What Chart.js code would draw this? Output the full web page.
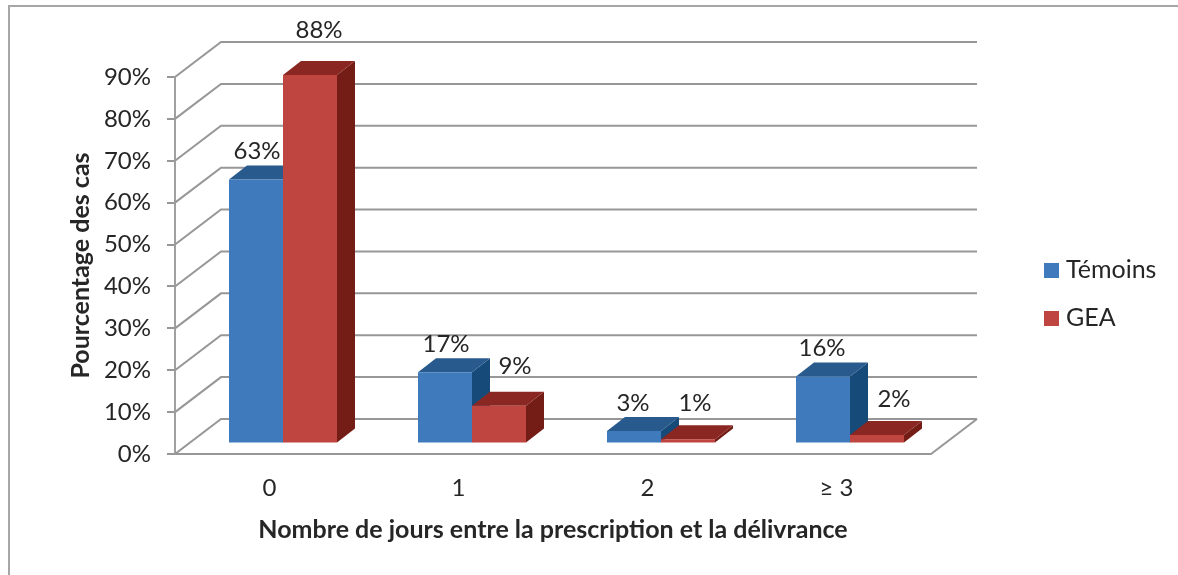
<!DOCTYPE html>
<html><head><meta charset="utf-8">
<style>html,body{margin:0;padding:0;background:#fff;overflow:hidden}canvas{display:block}</style>
<script src="https://cdn.jsdelivr.net/npm/chart.js@4"></script>
</head><body><canvas id="c" width="1178" height="575"></canvas>
<script>
const categories = ['0', '1', '2', '≥ 3'];
const temoins = [63, 17, 3, 16];
const gea = [88, 9, 1, 2];
const seriesNames = ['Témoins', 'GEA'];
const tickMax = 90, tickStep = 10;

const FONT = 'Lato, "Open Sans", sans-serif';
const TXT = '#262626';
const GRID = '#979797';
const faces = [
  {front:'#3F7BBC', top:'#285A8E', side:'#154A79'},
  {front:'#BE4540', top:'#8B2722', side:'#741C16'}
];
const wall = {dx:46, dy:35};      // depth of the chart box
const bar = {dx:18, dy:14};       // depth of a bar
const shift = {x:13.5, y:-10.5};  // bars stand in the middle of the floor
// fine placement of the value labels relative to the bar top
const nudges = [
  [[1,-28],[1,-28],[-1,-28],[-1,-28]],
  [[9,-45],[16,-40],[7,-36],[17,-36]]
];

const box3d = {
  id:'box3d',
  beforeDraw(ch){
    const c = ch.ctx;
    c.save();
    c.fillStyle = '#fff'; c.fillRect(0,0,ch.width,ch.height);
    c.strokeStyle = '#a6a6a6'; c.lineWidth = 2;
    c.beginPath(); c.moveTo(9,575); c.lineTo(9,6); c.lineTo(1178,6); c.stroke();
    c.restore();
  },
  beforeDatasetsDraw(ch){
    const c = ch.ctx, y = ch.scales.y, a = ch.chartArea;
    c.save();
    c.strokeStyle = GRID; c.lineWidth = 2; c.lineJoin = 'miter';
    y.ticks.forEach(t=>{
      const p = y.getPixelForValue(t.value);
      c.beginPath();
      c.moveTo(a.left,p); c.lineTo(a.left+wall.dx,p-wall.dy); c.lineTo(a.right+wall.dx,p-wall.dy);
      c.stroke();
    });
    c.beginPath();
    c.moveTo(a.left,a.bottom); c.lineTo(a.right,a.bottom); c.lineTo(a.right+wall.dx,a.bottom-wall.dy);
    c.stroke();
    c.restore();

    c.save();
    c.translate(shift.x, shift.y);
    [0,1].forEach(di=>{
      const m = ch.getDatasetMeta(di);
      m.data.forEach(el=>{
        const p = el.getProps(['x','y','base','width'],true);
        const l = p.x-p.width/2, r = p.x+p.width/2;
        c.fillStyle = faces[di].side;
        c.beginPath();
        c.moveTo(r,p.y); c.lineTo(r+bar.dx,p.y-bar.dy); c.lineTo(r+bar.dx,p.base-bar.dy); c.lineTo(r,p.base);
        c.closePath(); c.fill();
        c.fillStyle = faces[di].top;
        c.beginPath();
        c.moveTo(l,p.y); c.lineTo(l+bar.dx,p.y-bar.dy); c.lineTo(r+bar.dx,p.y-bar.dy); c.lineTo(r,p.y);
        c.closePath(); c.fill();
      });
    });
  },
  afterDatasetsDraw(ch){
    const c = ch.ctx;
    c.restore();
    c.save();
    c.font = '24px '+FONT; c.fillStyle = TXT; c.textAlign='center'; c.textBaseline='middle';
    [0,1].forEach(di=>{
      const m = ch.getDatasetMeta(di), d = ch.data.datasets[di].data;
      m.data.forEach((el,i)=>{
        const p = el.getProps(['x','y'],true), n = nudges[di][i];
        c.fillText(d[i]+'%', p.x+shift.x+n[0], p.y+shift.y+n[1]);
      });
    });
    // legend
    c.font = '25px '+FONT;
    c.textAlign='left';
    [0,1].forEach(di=>{
      const ly = 263 + di*48;
      c.fillStyle = faces[di].front; c.fillRect(1044,ly,15,15);
      c.fillStyle = TXT; c.fillText(ch.data.datasets[di].label, 1066, ly+6.5);
    });
    c.restore();
  }
};

function fixPad(s){ s.paddingTop=0; s.paddingBottom=0; s.paddingLeft=0; s.paddingRight=0; }

new Chart(document.getElementById('c'), {
  type:'bar',
  data:{
    labels:categories,
    datasets:[
      {label:seriesNames[0], data:temoins, backgroundColor:faces[0].front, clip:false},
      {label:seriesNames[1], data:gea, backgroundColor:faces[1].front, clip:false}
    ]
  },
  options:{
    responsive:false, animation:false, devicePixelRatio:1,
    layout:{padding:{left:66, right:247, top:77, bottom:30}},
    datasets:{bar:{barPercentage:1, categoryPercentage:0.5714}},
    plugins:{legend:{display:false}, tooltip:{enabled:false}, title:{display:false}},
    scales:{
      x:{
        grid:{display:false}, border:{display:false},
        ticks:{color:TXT, font:{family:FONT,size:24}, padding:12, maxRotation:0},
        title:{display:true, text:'Nombre de jours entre la prescription et la délivrance',
          color:TXT, font:{family:FONT,size:25,weight:'bold'}, padding:{top:10,bottom:0}},
        afterFit(s){ fixPad(s); s.height = 91; }
      },
      y:{
        min:0, max:tickMax,
        grid:{drawOnChartArea:false, color:GRID, lineWidth:2, tickLength:8},
        border:{color:'#a0a0a0', width:2},
        ticks:{stepSize:tickStep, color:TXT, font:{family:FONT,size:24}, padding:16, callback:v=>v+'%'},
        title:{display:true, text:'Pourcentage des cas',
          color:TXT, font:{family:FONT,size:25,weight:'bold'}, padding:{top:0,bottom:0}},
        afterFit(s){ fixPad(s); s.width = 109; }
      }
    }
  },
  plugins:[box3d]
});
</script></body></html>
